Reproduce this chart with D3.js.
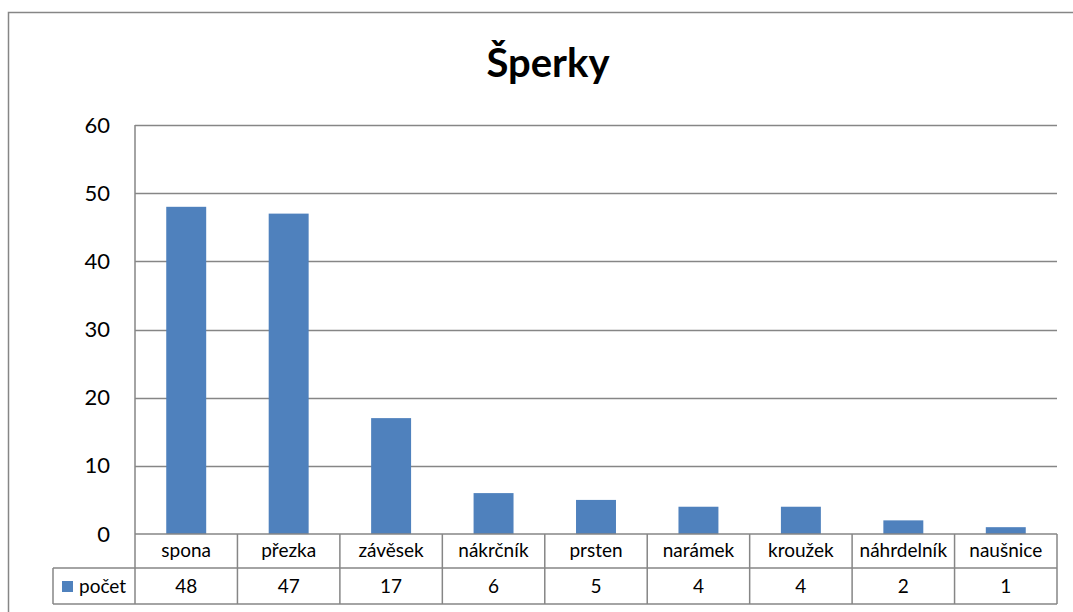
<!DOCTYPE html>
<html><head><meta charset="utf-8">
<script src="https://cdn.jsdelivr.net/npm/d3@7"></script>
<style>body{margin:0;background:#fff}svg{display:block}text{font-family:Lato,"Open Sans",sans-serif}</style>
</head><body><svg id="c" width="1073" height="612"></svg>
<script>
const title = "Šperky";
const seriesName = "počet";
const categories = ["spona","přezka","závěsek","nákrčník","prsten","narámek","kroužek","náhrdelník","naušnice"];
const values = [48,47,17,6,5,4,4,2,1];
const yTicks = [0,10,20,30,40,50,60];

(function(){
const svg = d3.select("#c");
const pLeft = 135, pRight = 1057, pTop = 125, pBottom = 534;
const row1 = 568, row2 = 604, legendLeft = 53;
const grid = "#868686", barColor = "#4F81BD";

svg.append("rect").attr("x",8.5).attr("y",12.5).attr("width",1100).attr("height",700)
  .attr("fill","none").attr("stroke",grid).attr("stroke-width",1.5);

svg.append("text").attr("x",548).attr("y",77).attr("text-anchor","middle")
  .attr("font-size",40).attr("font-weight","bold").attr("fill","#000").text(title);

const y = d3.scaleLinear().domain([0,60]).range([pBottom, pTop]);
const x = d3.scaleBand().domain(categories).range([pLeft, pRight]).paddingInner(0.61).paddingOuter(0.305);
const xc = d3.scaleBand().domain(categories).range([pLeft, pRight]);

svg.append("g").selectAll("line").data(yTicks.filter(d=>d>0)).join("line")
  .attr("x1",pLeft).attr("x2",pRight).attr("y1",d=>Math.round(y(d))+0.5).attr("y2",d=>Math.round(y(d))+0.5)
  .attr("stroke",grid).attr("stroke-width",1.3);

const yAxis = d3.axisLeft(y).tickValues(yTicks).tickSize(0).tickPadding(25);
const ya = svg.append("g").attr("transform",`translate(${pLeft},0)`).call(yAxis);
ya.select(".domain").remove();
ya.selectAll("text").attr("font-size",22).attr("fill","#000").style("font-family","Lato, sans-serif");

svg.append("g").selectAll("rect").data(values).join("rect")
  .attr("x",(d,i)=>x(categories[i])).attr("width",x.bandwidth())
  .attr("y",d=>y(d)).attr("height",d=>y(0)-y(d)).attr("fill",barColor);

const tg = svg.append("g").attr("stroke",grid).attr("stroke-width",1.5).attr("fill","none");
tg.append("line").attr("x1",pLeft).attr("x2",pRight).attr("y1",pBottom).attr("y2",pBottom);
tg.append("line").attr("x1",legendLeft).attr("x2",pRight).attr("y1",row1).attr("y2",row1);
tg.append("line").attr("x1",legendLeft).attr("x2",pRight).attr("y1",row2).attr("y2",row2);
tg.append("line").attr("x1",pLeft).attr("x2",pLeft).attr("y1",pTop).attr("y2",row2);
tg.append("line").attr("x1",legendLeft).attr("x2",legendLeft).attr("y1",row1).attr("y2",row2);
tg.selectAll("line.v").data(categories).join("line").attr("class","v")
  .attr("x1",d=>xc(d)+xc.bandwidth()).attr("x2",d=>xc(d)+xc.bandwidth()).attr("y1",pBottom).attr("y2",row2);

svg.append("g").selectAll("text").data(categories).join("text")
  .attr("x",d=>xc(d)+xc.bandwidth()/2).attr("y",(pBottom+row1)/2+6).attr("text-anchor","middle")
  .attr("font-size",19).attr("fill","#000").text(d=>d);
svg.append("g").selectAll("text").data(values).join("text")
  .attr("x",(d,i)=>xc(categories[i])+xc.bandwidth()/2).attr("y",(row1+row2)/2+7).attr("text-anchor","middle")
  .attr("font-size",19).attr("fill","#000").text(d=>d);
svg.append("rect").attr("x",62).attr("y",581).attr("width",11).attr("height",11).attr("fill",barColor);
svg.append("text").attr("x",79).attr("y",593).attr("font-size",19).attr("fill","#000").text(seriesName);
})();
</script></body></html>
